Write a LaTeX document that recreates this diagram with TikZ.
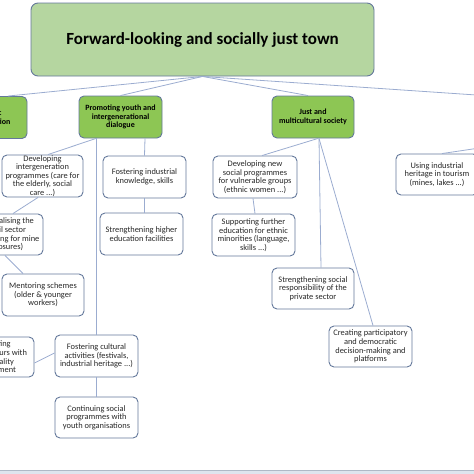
\documentclass[tikz,border=0pt]{standalone}
\usepackage{fontspec}
\setmainfont{Carlito}
\definecolor{titlefill}{RGB}{181,214,160}
\definecolor{greenfill}{RGB}{141,198,84}
\definecolor{boxline}{RGB}{100,120,155}
\definecolor{linkcol}{RGB}{155,172,208}
\definecolor{stripfill}{RGB}{222,229,238}
\definecolor{stripline}{RGB}{175,185,198}
\definecolor{itemtext}{RGB}{40,40,40}
\begin{document}
\begin{tikzpicture}[x=1pt,y=-1pt,
  basebox/.style={draw=boxline, line width=0.9pt, align=center, inner sep=0pt},
  titlebox/.style={basebox, fill=titlefill, rounded corners=7pt, font=\fontsize{17}{20}\selectfont\bfseries},
  themebox/.style={basebox, fill=greenfill, rounded corners=5pt, minimum width=83pt, minimum height=42pt, font=\fontsize{8}{8.8}\selectfont\bfseries},
  itembox/.style={basebox, fill=white, rounded corners=5pt, minimum width=83pt, minimum height=42pt, text=itemtext, font=\fontsize{8.4}{8.6}\selectfont},
  link/.style={draw=linkcol, line width=0.8pt}]
\useasboundingbox (0,0) rectangle (474,474);
\clip (0,0) rectangle (474,474);

% top
\node[titlebox, minimum width=343pt, minimum height=73pt] (top) at (202.5,39.5) {Forward-looking and socially just town};

% themes
\node[themebox] (econ) at (-14.5,117.5) {Economic\\transformation};
\node[themebox] (prom) at (120.5,117) {Promoting youth and\\intergenerational\\dialogue};
\node[themebox, minimum width=82pt] (just) at (313,117) {Just and\\multicultural society};
\coordinate (rtheme) at (550,100);
\coordinate (rthemeb) at (520,142);

% items
\node[itembox, minimum width=81pt] (dev) at (42.5,176) {Developing\\intergeneration\\programmes (care for\\the elderly, social\\care ...)};
\node[itembox] (fik) at (144.5,177) {Fostering industrial\\knowledge, skills};
\node[itembox] (she) at (141.5,234) {Strengthening higher\\education facilities};
\node[itembox, minimum width=70pt, minimum height=41pt] (rev) at (8,234.5) {Revitalising the\\civil sector\\(planning for mine\\closures)};
\node[itembox, minimum width=82pt] (men) at (43,295) {Mentoring schemes\\(older \& younger\\workers)};
\node[itembox, minimum width=80pt, minimum height=40pt] (ent) at (-6,357) {Attracting\\entrepreneurs with\\high quality\\environment};
\node[itembox] (fca) at (96.5,356) {Fostering cultural\\activities (festivals,\\industrial heritage ...)};
\node[itembox, minimum height=41pt] (csp) at (96.5,417.5) {Continuing social\\programmes with\\youth organisations};
\node[itembox, minimum width=84pt] (dnsp) at (255,177) {Developing new\\social programmes\\for vulnerable groups\\(ethnic women ...)};
\node[itembox] (sfe) at (253.5,235) {Supporting further\\education for ethnic\\minorities (language,\\skills ...)};
\node[itembox, minimum width=82pt, minimum height=41pt] (ssr) at (313,288.5) {Strengthening social\\responsibility of the\\private sector};
\node[itembox, minimum height=41pt] (cpd) at (370.5,346.5) {Creating participatory\\and democratic\\decision-making and\\platforms};
\node[itembox, minimum width=82pt, minimum height=41pt] (heri) at (437,174.5) {Using industrial\\heritage in tourism\\(mines, lakes ...)};

% connectors
\draw[link] (top.south) -- ([xshift=22.5pt]econ.north);
\draw[link] (top.south) -- (prom.north);
\draw[link] (top.south) -- ([xshift=-5pt]just.north);
\draw[link] (top.south) -- (rtheme);
\draw[link] (rthemeb) -- ([xshift=5pt]heri.north);

\draw[link] ([xshift=-24.5pt]prom.south) -- ([xshift=5.5pt]dev.north);
\draw[link] ([xshift=24.5pt]prom.south) -- (fik.north);
\draw[link] (fik.south) -- (fik.south |- she.north);
\draw[link] (fca.north |- prom.south) -- (fca.north);
\draw[link] (fca.south) -- (csp.north);
\draw[link] ([yshift=-6pt]ent.east) -- ([yshift=3pt]fca.west);
\draw[link] ([xshift=-4.5pt]dev.south) -- ([xshift=5pt]rev.north);
\draw[link] ([xshift=-3pt]rev.south) -- ([xshift=-20pt]men.north);

\draw[link] ([xshift=5pt]just.south) -- ([xshift=7pt]dnsp.north);
\draw[link] ([xshift=-2pt]dnsp.south) -- (dnsp.south |- sfe.north);
\draw[link] ([xshift=6pt]just.south) -- ([xshift=8pt]ssr.north);
\draw[link] ([xshift=6pt]just.south) -- ([xshift=2.5pt]cpd.north);

% bottom strip
\fill[stripfill] (0,470.5) rectangle (474,474);
\draw[stripline, line width=0.8pt] (0,470.5) -- (474,470.5);
\end{tikzpicture}
\end{document}
